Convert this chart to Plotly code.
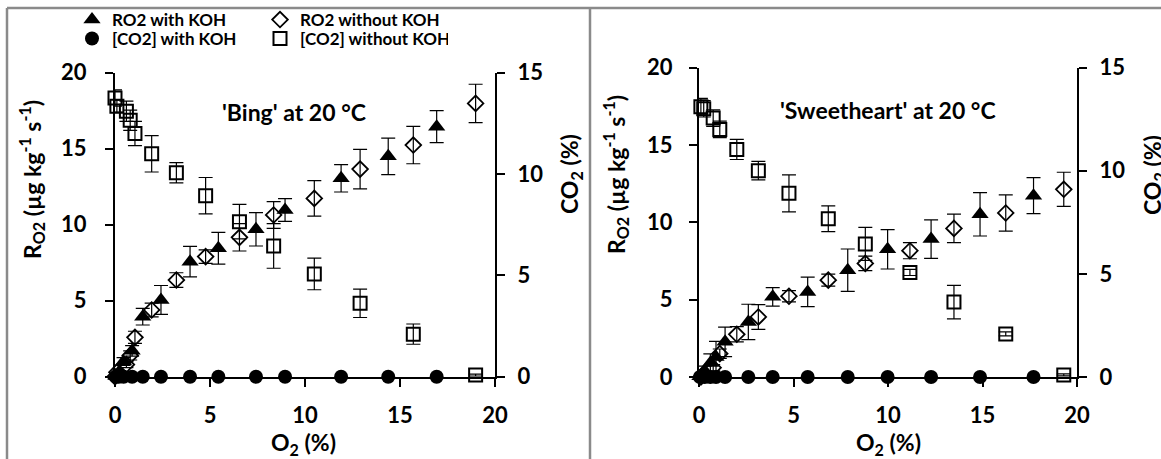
import plotly.graph_objects as go

W, H = 1161, 459

# ---------------- data: 'Bing' (left panel) ----------------
bing_koh_o2 = [0.05, 0.2, 0.45, 0.9, 1.46, 2.42, 3.95, 5.44, 7.42, 8.95, 11.9, 14.38, 16.93]
bing_ro2_koh = [0.05, 0.3, 1.0, 1.7, 3.95, 5.05, 7.57, 8.45, 9.7, 10.97, 13.05, 14.5, 16.45]
bing_ro2_koh_err = [0.05, 0.1, 0.25, 0.35, 0.55, 0.95, 1.0, 1.05, 1.1, 0.75, 0.9, 1.2, 1.05]
bing_co2_koh = [0, 0, 0, 0, 0, 0, 0, 0, 0, 0, 0, 0, 0]

bing_nokoh_o2 = [0.0, 0.1, 0.6, 0.8, 1.05, 1.93, 3.23, 4.77, 6.55, 8.35, 10.49, 12.9, 15.7, 18.98]
bing_ro2_nokoh = [0.0, 0.3, 0.8, 1.4, 2.59, 4.39, 6.36, 7.9, 9.17, 10.64, 11.73, 13.66, 15.24, 17.98]
bing_ro2_nokoh_err = [0.05, 0.1, 0.2, 0.3, 0.4, 0.45, 0.48, 0.45, 0.9, 0.88, 1.17, 1.3, 1.23, 1.26]
bing_co2_nokoh = [13.75, 13.35, 13.1, 12.65, 12.0, 11.0, 10.06, 8.93, 7.65, 6.45, 5.07, 3.62, 2.1, 0.08]
bing_co2_nokoh_err = [0.4, 0.3, 0.5, 0.5, 0.6, 0.9, 0.5, 0.9, 0.85, 1.1, 0.78, 0.7, 0.5, 0.05]

# ---------------- data: 'Sweetheart' (right panel) ----------------
sw_koh_o2 = [0.05, 0.3, 0.6, 0.9, 1.38, 2.61, 3.9, 5.75, 7.87, 9.98, 12.28, 14.87, 17.7]
sw_ro2_koh = [0.05, 0.4, 0.9, 1.3, 2.27, 3.56, 5.18, 5.5, 6.9, 8.25, 8.91, 10.51, 11.72]
sw_ro2_koh_err = [0.1, 0.3, 0.6, 1.0, 0.95, 1.14, 0.6, 0.95, 1.37, 1.27, 1.24, 1.4, 1.16]
sw_co2_koh = [0, 0, 0, 0, 0, 0, 0, 0, 0, 0, 0, 0, 0]

sw_nokoh_o2 = [0.1, 0.25, 0.75, 1.1, 2.0, 3.14, 4.76, 6.84, 8.8, 11.16, 13.49, 16.23, 19.3]
sw_ro2_nokoh = [0.0, 0.2, 0.6, 1.51, 2.76, 3.88, 5.22, 6.26, 7.34, 8.16, 9.6, 10.6, 12.13]
sw_ro2_nokoh_err = [0.05, 0.1, 0.2, 0.3, 0.49, 0.8, 0.36, 0.39, 0.47, 0.52, 0.92, 1.17, 1.1]
sw_co2_nokoh = [13.1, 13.0, 12.55, 12.0, 11.03, 10.0, 8.9, 7.67, 6.45, 5.07, 3.63, 2.09, 0.1]
sw_co2_nokoh_err = [0.4, 0.4, 0.4, 0.4, 0.49, 0.45, 0.9, 0.62, 0.8, 0.15, 0.81, 0.1, 0.05]

x_ticks = [0, 5, 10, 15, 20]
r_ticks = [0, 5, 10, 15, 20]
co2_ticks = [0, 5, 10, 15]

series_names = ["RO2 with KOH", "RO2 without KOH", "[CO2] with KOH", "[CO2] without KOH"]

FONT = "Lato"
BLACK = "#000000"


def px_x(p):
    return p / W


def px_y(p):
    return 1 - p / H


def err(vals):
    return dict(type="data", array=vals, visible=True, color=BLACK, thickness=1.2, width=7)


fig = go.Figure()

marker_styles = {
    "RO2 with KOH": dict(symbol="triangle-up", size=15, color=BLACK, line=dict(width=0)),
    "RO2 without KOH": dict(symbol="diamond-open", size=12, color=BLACK, line=dict(width=1.8, color=BLACK)),
    "[CO2] with KOH": dict(symbol="circle", size=14, color=BLACK, line=dict(width=0)),
    "[CO2] without KOH": dict(symbol="square-open", size=13, color=BLACK, line=dict(width=2, color=BLACK)),
}

panels = [
    ("x", "y", "y2", bing_koh_o2, bing_ro2_koh, bing_ro2_koh_err, bing_co2_koh,
     bing_nokoh_o2, bing_ro2_nokoh, bing_ro2_nokoh_err, bing_co2_nokoh, bing_co2_nokoh_err),
    ("x2", "y3", "y4", sw_koh_o2, sw_ro2_koh, sw_ro2_koh_err, sw_co2_koh,
     sw_nokoh_o2, sw_ro2_nokoh, sw_ro2_nokoh_err, sw_co2_nokoh, sw_co2_nokoh_err),
]

for (xa, ya, ya2, kx, rk, rke, ck, nx, rn, rne, cn, cne) in panels:
    fig.add_trace(go.Scatter(x=nx, y=cn, error_y=err(cne), mode="markers", xaxis=xa, yaxis=ya2,
                             marker=marker_styles["[CO2] without KOH"], showlegend=False, cliponaxis=False,
                             name="[CO2] without KOH"))
    fig.add_trace(go.Scatter(x=kx, y=ck, mode="markers", xaxis=xa, yaxis=ya2,
                             marker=marker_styles["[CO2] with KOH"], showlegend=False, cliponaxis=False,
                             name="[CO2] with KOH"))
    fig.add_trace(go.Scatter(x=nx, y=rn, error_y=err(rne), mode="markers", xaxis=xa, yaxis=ya,
                             marker=marker_styles["RO2 without KOH"], showlegend=False, cliponaxis=False,
                             name="RO2 without KOH"))
    fig.add_trace(go.Scatter(x=kx, y=rk, error_y=err(rke), mode="markers", xaxis=xa, yaxis=ya,
                             marker=marker_styles["RO2 with KOH"], showlegend=False, cliponaxis=False,
                             name="RO2 with KOH"))

# legend entries (two rows, two columns)
for i, nm in enumerate(series_names):
    fig.add_trace(go.Scatter(x=[None], y=[None], mode="markers", name=nm,
                             marker=marker_styles[nm], xaxis="x", yaxis="y",
                             legend="legend" if i < 2 else "legend2"))

tickfont = dict(family=FONT, size=22, color=BLACK, weight="bold")
common_ax = dict(showgrid=False, zeroline=False, showline=True, linecolor=BLACK, linewidth=2,
                 ticks="outside", ticklen=8, tickwidth=2, tickcolor=BLACK, tickfont=tickfont,
                 layer="below traces")

left_x = [115, 495]
right_x = [699, 1077]
top_l, bot_l = 72.7, 376.7
top_r, bot_r = 67.5, 377

legend_font = dict(family=FONT, size=17, color=BLACK, weight="bold")

fig.update_layout(
    width=W, height=H,
    margin=dict(l=0, r=0, t=0, b=0, autoexpand=False),
    paper_bgcolor="white", plot_bgcolor="rgba(0,0,0,0)",
    font=dict(family=FONT, color=BLACK),
    xaxis=dict(domain=[px_x(left_x[0]), px_x(left_x[1])], range=[0, 20], tickvals=x_ticks,
               anchor="y", ticklabelstandoff=10, **common_ax),
    yaxis=dict(domain=[px_y(bot_l), px_y(top_l)], range=[0, 20], tickvals=r_ticks,
               anchor="x", ticklabelstandoff=14, **common_ax),
    yaxis2=dict(range=[0, 15], tickvals=co2_ticks, overlaying="y", side="right", anchor="x",
                ticklabelstandoff=8, **common_ax),
    xaxis2=dict(domain=[px_x(right_x[0]), px_x(right_x[1])], range=[0, 20], tickvals=x_ticks,
                anchor="y3", ticklabelstandoff=10, **common_ax),
    yaxis3=dict(domain=[px_y(bot_r), px_y(top_r)], range=[0, 20], tickvals=r_ticks,
                anchor="x2", ticklabelstandoff=12, **common_ax),
    yaxis4=dict(range=[0, 15], tickvals=co2_ticks, overlaying="y3", side="right", anchor="x2",
                ticklabelstandoff=8, **common_ax),
    legend=dict(orientation="h", x=px_x(72), y=px_y(20), xanchor="left", yanchor="middle",
                entrywidth=143, entrywidthmode="pixels", bgcolor="rgba(0,0,0,0)",
                font=legend_font, itemclick=False),
    legend2=dict(orientation="h", x=px_x(72), y=px_y(39), xanchor="left", yanchor="middle",
                 entrywidth=143, entrywidthmode="pixels", bgcolor="rgba(0,0,0,0)",
                 font=legend_font, itemclick=False),
)

title_font = dict(family=FONT, size=23, color=BLACK, weight="bold")
ann = [
    ("R<sub>O2</sub> (µg kg<sup>-1</sup> s<sup>-1</sup>)", 32, 180, -90),
    ("CO<sub>2</sub> (%)", 570, 174, -90),
    ("R<sub>O2</sub> (µg kg<sup>-1</sup> s<sup>-1</sup>)", 615, 175, -90),
    ("CO<sub>2</sub> (%)", 1153, 175, -90),
    ("O<sub>2</sub> (%)", 303, 443, 0),
    ("O<sub>2</sub> (%)", 888, 443, 0),
    ("'Bing' at 20 °C", 294, 112, 0),
    ("'Sweetheart' at 20 °C", 888, 110, 0),
]
for text, x, y, ang in ann:
    fig.add_annotation(text=text, x=px_x(x), y=px_y(y), xref="paper", yref="paper",
                       showarrow=False, textangle=ang, font=title_font,
                       xanchor="center", yanchor="middle")

# page/table frame lines
GRAY = "#8a8a8a"
fig.add_shape(type="line", xref="paper", yref="paper", x0=px_x(7), x1=px_x(7), y0=px_y(8), y1=px_y(470),
              line=dict(color=GRAY, width=2.5))
fig.add_shape(type="line", xref="paper", yref="paper", x0=px_x(590), x1=px_x(590), y0=px_y(8), y1=px_y(470),
              line=dict(color=GRAY, width=2.5))
fig.add_shape(type="line", xref="paper", yref="paper", x0=px_x(7), x1=px_x(1170), y0=px_y(8), y1=px_y(8),
              line=dict(color=GRAY, width=2.5))

# remove the browser's default 8px body margin so figure pixels match the page
fig.write_html("out.html", config={"displayModeBar": False},
               post_script="document.body.style.margin='0';document.body.style.overflow='hidden';")
